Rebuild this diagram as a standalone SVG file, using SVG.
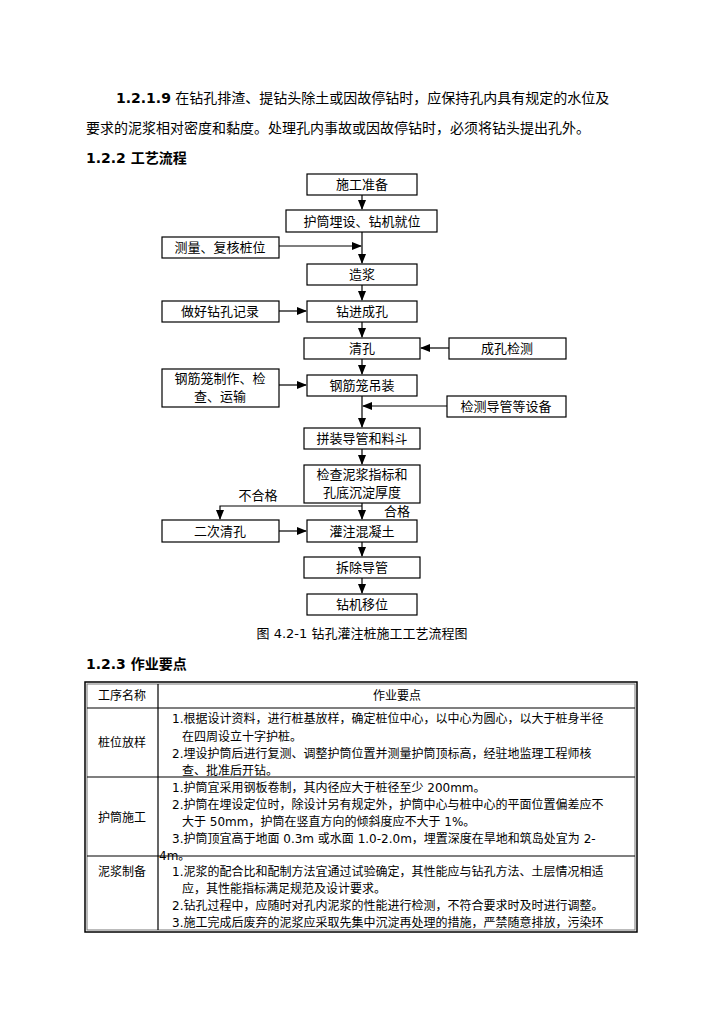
<svg xmlns="http://www.w3.org/2000/svg" width="725" height="1024" viewBox="0 0 725 1024">
<style>
text{font-family:"DejaVu Sans","Noto Sans CJK SC",sans-serif;fill:#000}
.b{fill:#fff;stroke:#000;stroke-width:1.2}
.n{font-size:13px;text-anchor:middle}
.l{stroke:#000;stroke-width:1.2;fill:none}
.t{font-size:12px}
.p{font-size:14px}
.h{font-size:14px;font-weight:bold}
</style>
<defs><marker id="a" markerWidth="10" markerHeight="8" refX="9" refY="4" orient="auto" markerUnits="userSpaceOnUse"><path d="M0,0L10,4L0,8Z"/></marker></defs>
<rect width="725" height="1024" fill="#fff"/>
<text x="116" y="103" class="p"><tspan font-weight="bold">1.2.1.9</tspan> 在钻孔排渣、提钻头除土或因故停钻时，应保持孔内具有规定的水位及</text>
<text x="86" y="133" class="p">要求的泥浆相对密度和黏度。处理孔内事故或因故停钻时，必须将钻头提出孔外。</text>
<text x="86" y="163" class="h">1.2.2 工艺流程</text>
<g id="connectors">
<path class="l" d="M362,195V209" marker-end="url(#a)"/>
<path class="l" d="M362,232V263" stroke="#bbb" marker-end="url(#a)"/>
<path class="l" d="M279,246H361" marker-end="url(#a)"/>
<path class="l" d="M362,285V300" marker-end="url(#a)"/>
<path class="l" d="M279,311H306" marker-end="url(#a)"/>
<path class="l" d="M362,322V337" marker-end="url(#a)"/>
<path class="l" d="M449,348H421" marker-end="url(#a)"/>
<path class="l" d="M362,359V374" marker-end="url(#a)"/>
<path class="l" d="M279,385H306" marker-end="url(#a)"/>
<path class="l" d="M362,396V427" marker-end="url(#a)"/>
<path class="l" d="M447,406H363" marker-end="url(#a)"/>
<path class="l" d="M362,449V464" marker-end="url(#a)"/>
<path class="l" d="M362,503V519" marker-end="url(#a)"/>
<path class="l" d="M362,506H220V519" marker-end="url(#a)"/>
<path class="l" d="M279,531H306" marker-end="url(#a)"/>
<path class="l" d="M362,542V556" marker-end="url(#a)"/>
<path class="l" d="M362,578V593" marker-end="url(#a)"/>
</g>
<g id="n1"><rect class="b" x="307" y="174" width="110" height="21"/><text class="n" x="362" y="189">施工准备</text></g>
<g id="n2"><rect class="b" x="286" y="210" width="151" height="22"/><text class="n" x="362" y="226">护筒埋设、钻机就位</text></g>
<g id="n3"><rect class="b" x="162" y="237" width="117" height="21"/><text class="n" x="220" y="252">测量、复核桩位</text></g>
<g id="n4"><rect class="b" x="307" y="264" width="110" height="21"/><text class="n" x="362" y="279">造浆</text></g>
<g id="n5"><rect class="b" x="162" y="301" width="117" height="21"/><text class="n" x="220" y="316">做好钻孔记录</text></g>
<g id="n6"><rect class="b" x="307" y="301" width="110" height="21"/><text class="n" x="362" y="316">钻进成孔</text></g>
<g id="n7"><rect class="b" x="304" y="338" width="116" height="21"/><text class="n" x="362" y="353">清孔</text></g>
<g id="n8"><rect class="b" x="449" y="338" width="117" height="21"/><text class="n" x="507" y="353">成孔检测</text></g>
<g id="n9"><rect class="b" x="162" y="369" width="117" height="38"/><text class="n" x="220" y="383">钢筋笼制作、检</text><text class="n" x="220" y="401">查、运输</text></g>
<g id="n10"><rect class="b" x="307" y="375" width="110" height="21"/><text class="n" x="362" y="390">钢筋笼吊装</text></g>
<g id="n11"><rect class="b" x="447" y="396" width="119" height="21"/><text class="n" x="506" y="411">检测导管等设备</text></g>
<g id="n12"><rect class="b" x="304" y="428" width="116" height="21"/><text class="n" x="362" y="443">拼装导管和料斗</text></g>
<g id="n13"><rect class="b" x="304" y="465" width="116" height="38"/><text class="n" x="362" y="479">检查泥浆指标和</text><text class="n" x="362" y="497">孔底沉淀厚度</text></g>
<text class="n" x="258" y="500">不合格</text>
<text class="n" x="397" y="516">合格</text>
<g id="n14"><rect class="b" x="162" y="520" width="117" height="22"/><text class="n" x="220" y="536">二次清孔</text></g>
<g id="n15"><rect class="b" x="307" y="520" width="110" height="22"/><text class="n" x="362" y="536">灌注混凝土</text></g>
<g id="n16"><rect class="b" x="304" y="557" width="116" height="21"/><text class="n" x="362" y="572">拆除导管</text></g>
<g id="n17"><rect class="b" x="307" y="594" width="110" height="21"/><text class="n" x="362" y="609">钻机移位</text></g>
<text class="n" x="362" y="638">图 4.2-1 钻孔灌注桩施工工艺流程图</text>
<text x="86" y="669" class="h">1.2.3 作业要点</text>
<g id="table">
<rect x="85" y="682" width="552" height="250" fill="none" stroke="#000" stroke-width="1.5"/>
<rect x="87" y="684" width="548" height="246" fill="none" stroke="#777" stroke-width="1"/>
<path class="l" d="M158,684V930M87,708H635M87,777H635M87,856H635"/>
<g class="t">
<text x="122" y="700" text-anchor="middle">工序名称</text>
<text x="397" y="700" text-anchor="middle">作业要点</text>
<text x="122" y="747" text-anchor="middle">桩位放样</text>
<text x="122" y="822" text-anchor="middle">护筒施工</text>
<text x="122" y="876" text-anchor="middle">泥浆制备</text>
<text x="172" y="723">1.根据设计资料，进行桩基放样，确定桩位中心，以中心为圆心，以大于桩身半径</text>
<text x="182" y="741">在四周设立十字护桩。</text>
<text x="172" y="758">2.埋设护筒后进行复测、调整护筒位置并测量护筒顶标高，经驻地监理工程师核</text>
<text x="182" y="775">查、批准后开钻。</text>
<text x="172" y="792">1.护筒宜采用钢板卷制，其内径应大于桩径至少 200mm。</text>
<text x="172" y="809">2.护筒在埋设定位时，除设计另有规定外，护筒中心与桩中心的平面位置偏差应不</text>
<text x="182" y="826">大于 50mm，护筒在竖直方向的倾斜度应不大于 1%。</text>
<text x="172" y="843">3.护筒顶宜高于地面 0.3m 或水面 1.0-2.0m，埋置深度在旱地和筑岛处宜为 2-</text>
<text x="159" y="860">4m。</text>
<text x="172" y="876">1.泥浆的配合比和配制方法宜通过试验确定，其性能应与钻孔方法、土层情况相适</text>
<text x="182" y="893">应，其性能指标满足规范及设计要求。</text>
<text x="172" y="910">2.钻孔过程中，应随时对孔内泥浆的性能进行检测，不符合要求时及时进行调整。</text>
<text x="172" y="927">3.施工完成后废弃的泥浆应采取先集中沉淀再处理的措施，严禁随意排放，污染环</text>
</g>
</g>
</svg>
